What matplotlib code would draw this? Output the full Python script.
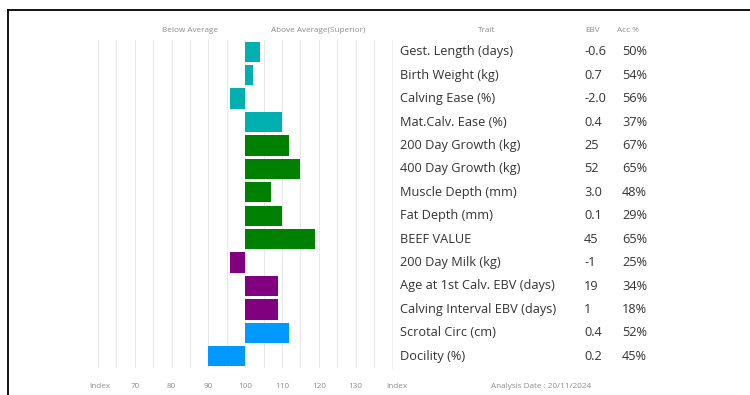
import matplotlib.pyplot as plt
from matplotlib import transforms
from matplotlib.lines import Line2D

plt.rcParams["font.family"] = ["Open Sans", "DejaVu Sans"]

# Data
traits = [
    "Gest. Length (days)", "Birth Weight (kg)", "Calving Ease (%)", "Mat.Calv. Ease (%)",
    "200 Day Growth (kg)", "400 Day Growth (kg)", "Muscle Depth (mm)", "Fat Depth (mm)",
    "BEEF VALUE", "200 Day Milk (kg)", "Age at 1st Calv. EBV (days)",
    "Calving Interval EBV (days)", "Scrotal Circ (cm)", "Docility (%)",
]
index_values = [104, 102, 96, 110, 112, 115, 107, 110, 119, 96, 109, 109, 112, 90]
ebv = ["-0.6", "0.7", "-2.0", "0.4", "25", "52", "3.0", "0.1", "45", "-1", "19", "1", "0.4", "0.2"]
acc = ["50%", "54%", "56%", "37%", "67%", "65%", "48%", "29%", "65%", "25%", "34%", "18%", "52%", "45%"]
groups = ["calving"] * 4 + ["growth"] * 5 + ["maternal"] * 3 + ["other"] * 2
tick_values = [70, 80, 90, 100, 110, 120, 130]
analysis_date = "20/11/2024"

group_colors = {
    "calving": "#00B0B0",
    "growth": "#008000",
    "maternal": "#800080",
    "other": "#0099FF",
}

W, H = 750, 395
fig = plt.figure(figsize=(W / 100, H / 100), dpi=100)


def fx(px):
    return px / W


def fy(py):
    return 1 - py / H


# bar panel
ax = fig.add_axes([fx(98), fy(368), fx(377.7) - fx(98), fy(40) - fy(368)])
ax.set_xlim(60, 136)
ax.set_ylim(len(traits) - 0.5, -0.5)
for g in range(60, 136, 5):
    ax.axvline(g, color="#e9e9e9", lw=0.8, zorder=0)

rows = list(range(len(traits)))
widths = [v - 100 for v in index_values]
colors = [group_colors[g] for g in groups]
ax.barh(rows, widths, left=100, height=0.86, color=colors, zorder=2)
ax.axis("off")

# header labels
hdr = dict(fontsize=5.9, color="#8c8c8c", ha="center", va="center")
fig.text(fx(190), fy(31), "Below Average", **hdr)
fig.text(fx(318), fy(31), "Above Average(Superior)", **hdr)
fig.text(fx(487), fy(31), "Trait", **hdr)
fig.text(fx(593), fy(31), "EBV", **hdr)
fig.text(fx(628), fy(31), "Acc %", **hdr)

# table
trans = transforms.blended_transform_factory(fig.transFigure, ax.transData)
for i, (t, e, a) in enumerate(zip(traits, ebv, acc)):
    ax.text(fx(400), i, t, transform=trans, fontsize=9.2, color="#333333", va="center", ha="left")
    ax.text(fx(584), i, e, transform=trans, fontsize=9.2, color="#333333", va="center", ha="left")
    ax.text(fx(622), i, a, transform=trans, fontsize=9.2, color="#333333", va="center", ha="left")

fig.add_artist(Line2D([fx(392), fx(392)], [fy(40), fy(368)], color="#eeeeee", lw=0.8))

# bottom axis labels
bot = dict(fontsize=5.9, color="#8c8c8c", ha="center", va="center")
tb = transforms.blended_transform_factory(ax.transData, fig.transFigure)
for t in tick_values:
    ax.text(t, fy(387), str(t), transform=tb, **bot)
fig.text(fx(100), fy(387), "Index", **bot)
fig.text(fx(397), fy(387), "Index", **bot)
fig.text(fx(541), fy(387), "Analysis Date : " + analysis_date, **bot)

# frame lines
fig.add_artist(Line2D([fx(7.5), 1], [fy(9.5), fy(9.5)], color="black", lw=1.3))
fig.add_artist(Line2D([fx(7.5), fx(7.5)], [fy(9.5), 0], color="black", lw=1.3))

fig.savefig("out.png", dpi=100)
